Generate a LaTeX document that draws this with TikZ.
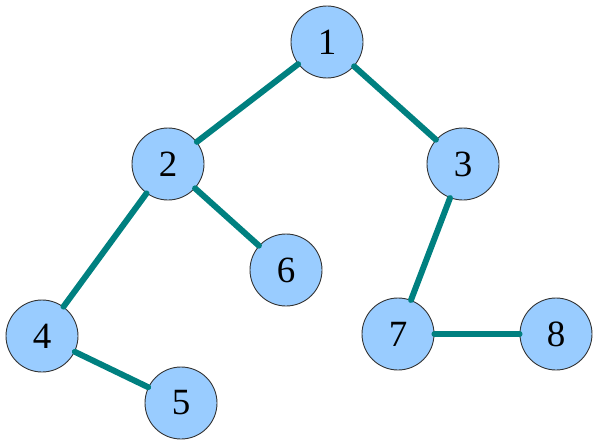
\documentclass[tikz,border=0pt]{standalone}
\usepackage{fontspec}
\setmainfont{Liberation Serif}
\usepackage{tikz}

\begin{document}
\begin{tikzpicture}[x=1pt,y=-1pt,
  vert/.style={circle,draw=black!80,line width=0.9pt,
    fill={rgb,255:red,153;green,204;blue,255},
    minimum size=72pt,inner sep=0pt,font=\fontsize{37}{37}\selectfont},
  edge/.style={line width=6pt,line cap=round,draw={rgb,255:red,0;green,128;blue,128}}]
\useasboundingbox (0,0) rectangle (599,444);
\node[vert] (n1) at (327,42) {1};
\node[vert] (n2) at (168,164) {2};
\node[vert] (n3) at (463,164) {3};
\node[vert] (n6) at (286,270) {6};
\node[vert] (n4) at (42,336) {4};
\node[vert] (n7) at (398,334) {7};
\node[vert] (n8) at (556,334) {8};
\node[vert] (n5) at (181,403) {5};
\draw[edge] (n1) -- (n2);
\draw[edge] (n1) -- (n3);
\draw[edge] (n2) -- (n4);
\draw[edge] (n2) -- (n6);
\draw[edge] (n4) -- (n5);
\draw[edge] (n3) -- (n7);
\draw[edge] (n7) -- (n8);
\end{tikzpicture}
\end{document}
